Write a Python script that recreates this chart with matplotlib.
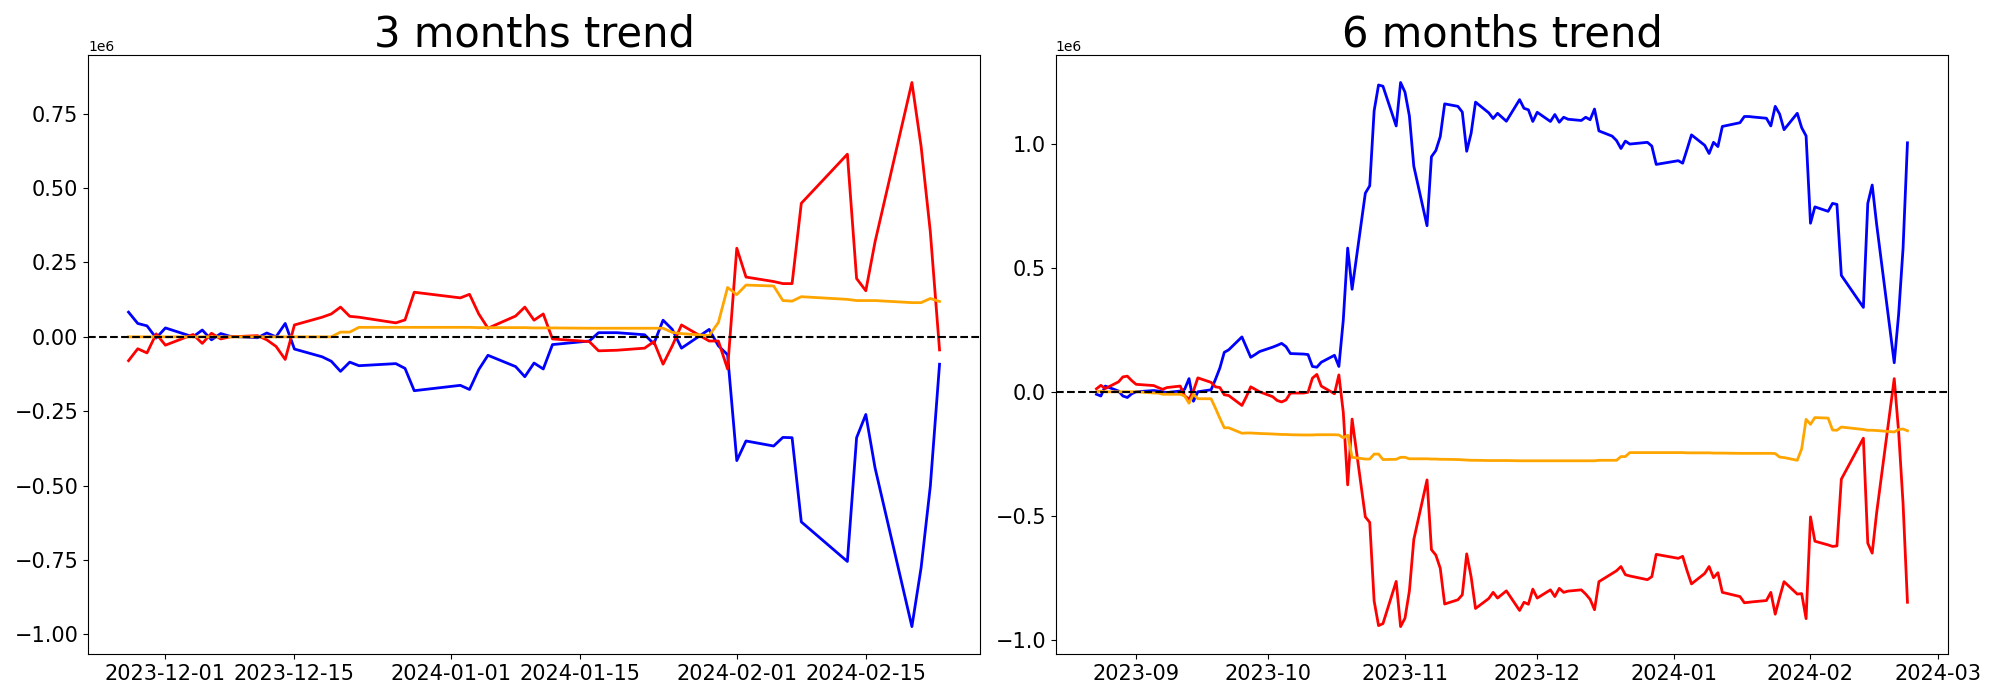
import numpy as np
import pandas as pd
import matplotlib
matplotlib.use("Agg")
import matplotlib.pyplot as plt
import matplotlib.dates as mdates

# trading days shown in the chart (weekdays minus the days that are missing)
START_6M = "2023-08-23"
START_3M = "2023-11-27"
END = "2024-02-23"
SKIPPED_DAYS = ["2023-09-04", "2023-11-23", "2023-12-25", "2023-12-29",
                "2024-01-01", "2024-01-15", "2024-02-09", "2024-02-12",
                "2024-02-19"]

# values in millions
# 6 months trend
blue_6m = [
    -0.010, -0.017, 0.023,
    0.003, -0.017, -0.023, -0.008, 0.000,
    0.005, 0.003, 0.000, -0.003,
    0.003, 0.010, 0.053, -0.038, 0.000,
    0.008, 0.050, 0.096, 0.159, 0.169,
    0.221, 0.180, 0.139, 0.150, 0.162,
    0.180, 0.187, 0.195, 0.182, 0.154,
    0.152, 0.150, 0.102, 0.099, 0.119,
    0.147, 0.102, 0.289, 0.579, 0.413,
    0.800, 0.830, 1.132, 1.236, 1.231,
    1.071, 1.246, 1.207, 1.111, 0.909,
    0.669, 0.947, 0.972, 1.028, 1.160,
    1.150, 1.127, 0.969, 1.041, 1.167,
    1.124, 1.101, 1.122, 1.090,
    1.177, 1.142, 1.136, 1.089, 1.126,
    1.089, 1.117, 1.086, 1.106, 1.098,
    1.093, 1.106, 1.096, 1.139, 1.051,
    1.030, 1.012, 0.980, 1.010, 0.998,
    1.005, 0.990, 0.916,
    0.931, 0.921, 0.977, 1.035,
    0.993, 0.960, 1.005, 0.988, 1.069,
    1.084, 1.109, 1.109, 1.107,
    1.102, 1.071, 1.150, 1.119, 1.056,
    1.122, 1.064, 1.031,
    0.679, 0.745,
    0.727, 0.759, 0.755, 0.469,
    0.340, 0.759, 0.833, 0.676,
    0.117, 0.312, 0.577, 1.003,
]
red_6m = [
    0.012, 0.026, 0.013,
    0.040, 0.060, 0.063, 0.045, 0.030,
    0.025, 0.017, 0.010, 0.017,
    0.023, -0.016, -0.030, 0.003, 0.056,
    0.038, 0.020, 0.017, -0.012, -0.015,
    -0.055, -0.020, 0.020, 0.010, 0.000,
    -0.020, -0.035, -0.041, -0.033, -0.005,
    -0.005, -0.002, 0.055, 0.070, 0.023,
    -0.008, 0.068, -0.083, -0.375, -0.110,
    -0.504, -0.526, -0.843, -0.942, -0.934,
    -0.764, -0.946, -0.912, -0.802, -0.595,
    -0.355, -0.636, -0.658, -0.711, -0.855,
    -0.838, -0.818, -0.653, -0.745, -0.873,
    -0.833, -0.808, -0.831, -0.802,
    -0.881, -0.848, -0.856, -0.795, -0.831,
    -0.798, -0.825, -0.792, -0.808, -0.803,
    -0.798, -0.815, -0.836, -0.878, -0.765,
    -0.732, -0.721, -0.704, -0.737, -0.742,
    -0.757, -0.745, -0.655,
    -0.671, -0.663, -0.721, -0.774,
    -0.732, -0.704, -0.749, -0.729, -0.808,
    -0.825, -0.850, -0.848, -0.846,
    -0.841, -0.808, -0.896, -0.828, -0.765,
    -0.815, -0.813, -0.914,
    -0.504, -0.602,
    -0.617, -0.623, -0.621, -0.352,
    -0.187, -0.610, -0.650, -0.489,
    0.053, -0.162, -0.449, -0.848,
]
orange_6m = [
    0.000, 0.003, 0.000,
    0.000, 0.000, 0.000, 0.000, 0.000,
    -0.005, -0.005, -0.010, -0.010,
    -0.010, -0.017, -0.046, -0.010, -0.028,
    -0.028, -0.066, -0.107, -0.145, -0.145,
    -0.167, -0.166, -0.166, -0.167, -0.168,
    -0.170, -0.171, -0.172, -0.172, -0.173,
    -0.174, -0.174, -0.174, -0.173, -0.173,
    -0.173, -0.174, -0.185, -0.175, -0.264,
    -0.271, -0.271, -0.251, -0.251, -0.273,
    -0.272, -0.264, -0.264, -0.270, -0.270,
    -0.270, -0.271, -0.271, -0.272, -0.272,
    -0.273, -0.274, -0.275, -0.276, -0.276,
    -0.277, -0.277, -0.277, -0.277,
    -0.278, -0.278, -0.278, -0.278, -0.278,
    -0.278, -0.278, -0.278, -0.278, -0.278,
    -0.278, -0.278, -0.278, -0.278, -0.276,
    -0.276, -0.276, -0.261, -0.261, -0.245,
    -0.245, -0.245, -0.245,
    -0.245, -0.245, -0.246, -0.246,
    -0.246, -0.246, -0.247, -0.247, -0.247,
    -0.248, -0.248, -0.248, -0.248,
    -0.248, -0.248, -0.249, -0.263, -0.265,
    -0.276, -0.230, -0.111,
    -0.131, -0.104,
    -0.106, -0.154, -0.155, -0.142,
    -0.152, -0.155, -0.155, -0.156,
    -0.162, -0.152, -0.150, -0.157,
]

# 3 months trend
blue_3m = [
    0.083, 0.045, 0.037, -0.004, 0.030,
    0.000, 0.023, -0.010, 0.011, 0.002,
    -0.003, 0.013, 0.000, 0.045, -0.041,
    -0.067, -0.082, -0.116, -0.085, -0.097,
    -0.090, -0.106, -0.181,
    -0.163, -0.177, -0.110, -0.062,
    -0.100, -0.134, -0.088, -0.108, -0.026,
    -0.014, 0.014, 0.014, 0.014,
    0.007, -0.023, 0.056, 0.025, -0.038,
    0.025, -0.030, -0.060,
    -0.416, -0.350,
    -0.367, -0.338, -0.339, -0.622,
    -0.755, -0.339, -0.261, -0.440,
    -0.974, -0.776, -0.502, -0.092,
]
red_3m = [
    -0.080, -0.040, -0.054, 0.010, -0.028,
    0.008, -0.022, 0.012, -0.007, 0.000,
    0.004, -0.010, -0.032, -0.076, 0.040,
    0.066, 0.077, 0.100, 0.069, 0.066,
    0.047, 0.057, 0.150,
    0.131, 0.143, 0.077, 0.029,
    0.070, 0.100, 0.056, 0.077, -0.007,
    -0.016, -0.047, -0.046, -0.045,
    -0.038, -0.016, -0.092, -0.030, 0.040,
    -0.014, -0.014, -0.108,
    0.298, 0.201,
    0.186, 0.179, 0.179, 0.449,
    0.614, 0.196, 0.155, 0.319,
    0.855, 0.640, 0.353, -0.044,
]
orange_3m = [
    0.000, 0.000, 0.000, 0.000, 0.000,
    0.000, 0.000, 0.000, 0.000, 0.000,
    0.000, 0.000, 0.000, 0.000, 0.000,
    0.000, 0.000, 0.016, 0.016, 0.032,
    0.032, 0.032, 0.032,
    0.032, 0.032, 0.031, 0.031,
    0.031, 0.031, 0.030, 0.030, 0.030,
    0.029, 0.029, 0.029, 0.029,
    0.029, 0.029, 0.029, 0.015, 0.011,
    0.004, 0.048, 0.166,
    0.142, 0.174,
    0.171, 0.122, 0.120, 0.135,
    0.126, 0.122, 0.122, 0.122,
    0.115, 0.115, 0.129, 0.119,
]

COLORS = ["blue", "red", "orange"]


def trading_days(start, end):
    days = pd.bdate_range(start, end)
    return days[~days.isin(pd.to_datetime(SKIPPED_DAYS))]


def draw_panel(ax, dates, series, title):
    for values, color in zip(series, COLORS):
        ax.plot(dates, np.array(values) * 1e6, color=color, lw=2)
    ax.axhline(0, color="black", ls="--", lw=1.5)
    ax.set_title(title, fontsize=30)
    ax.tick_params(labelsize=15)


def main():
    dates_6m = trading_days(START_6M, END)
    dates_3m = trading_days(START_3M, END)

    fig, (ax1, ax2) = plt.subplots(1, 2, figsize=(20, 7), dpi=100)
    fig.subplots_adjust(left=0.044, right=0.974, top=0.921, bottom=0.066,
                        wspace=0.085)

    draw_panel(ax1, dates_3m, [blue_3m, red_3m, orange_3m], "3 months trend")
    ax1.xaxis.set_major_locator(mdates.DayLocator(bymonthday=[1, 15]))
    ax1.xaxis.set_major_formatter(mdates.DateFormatter("%Y-%m-%d"))

    draw_panel(ax2, dates_6m, [blue_6m, red_6m, orange_6m], "6 months trend")
    ax2.xaxis.set_major_locator(mdates.MonthLocator())
    ax2.xaxis.set_major_formatter(mdates.DateFormatter("%Y-%m"))

    fig.savefig("out.png")


if __name__ == "__main__":
    main()
